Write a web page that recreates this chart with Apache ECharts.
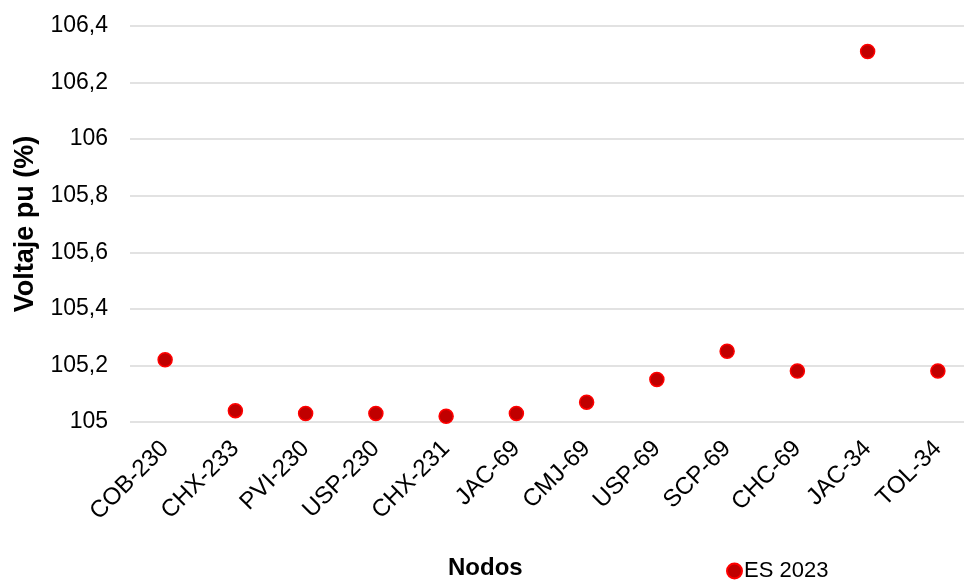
<!DOCTYPE html>
<html>
<head>
<meta charset="utf-8">
<script src="https://cdn.jsdelivr.net/npm/echarts@6/dist/echarts.min.js"></script>
<style>
  html, body { margin: 0; padding: 0; background: #ffffff; }
  #chart { width: 964px; height: 580px; }
</style>
</head>
<body>
<div id="chart"></div>
<script>
// Nodes along the horizontal axis
var nodos = ['COB-230', 'CHX-233', 'PVI-230', 'USP-230', 'CHX-231', 'JAC-69',
             'CMJ-69', 'USP-69', 'SCP-69', 'CHC-69', 'JAC-34', 'TOL-34'];

// Voltage per unit (%) for scenario ES 2023
var es2023 = [105.22, 105.04, 105.03, 105.03, 105.02, 105.03,
              105.07, 105.15, 105.25, 105.18, 106.31, 105.18];

// Value axis range and step
var yMin = 105;
var yMax = 106.4;
var yStep = 0.2;

var FONT = '"Liberation Sans", Arial, sans-serif';

var chart = echarts.init(document.getElementById('chart'), null, { renderer: 'canvas' });

chart.setOption({
  backgroundColor: '#ffffff',
  animation: false,
  textStyle: { fontFamily: FONT },
  title: {
    text: 'Nodos',
    left: 443,
    top: 551,
    textStyle: { fontFamily: FONT, fontSize: 24, fontWeight: 'bold', color: '#000000' }
  },
  legend: {
    left: 721,
    top: 555,
    itemWidth: 15,
    itemHeight: 15,
    itemGap: 4,
    icon: 'circle',
    textStyle: { fontFamily: FONT, fontSize: 22, color: '#000000', padding: [0, 0, 0, -3] },
    data: ['ES 2023']
  },
  grid: {
    left: 130,
    right: -9,
    top: 26,
    bottom: 158,
    outerBoundsMode: 'none',
    containLabel: false
  },
  xAxis: {
    type: 'category',
    data: nodos,
    boundaryGap: true,
    axisLine: { show: false },
    axisTick: { show: false },
    splitLine: { show: false },
    axisLabel: {
      rotate: 45,
      interval: 0,
      margin: 23,
      fontFamily: FONT,
      fontSize: 24,
      color: '#000000'
    }
  },
  yAxis: {
    type: 'value',
    min: yMin,
    max: yMax,
    interval: yStep,
    name: 'Voltaje pu (%)',
    nameLocation: 'middle',
    nameGap: 90,
    nameRotate: 90,
    nameTextStyle: { fontFamily: FONT, fontSize: 27, fontWeight: 'bold', color: '#000000' },
    axisLine: { show: false },
    axisTick: { show: false },
    axisLabel: {
      margin: 22,
      fontFamily: FONT,
      fontSize: 23,
      color: '#000000',
      formatter: function (v) {
        return String(Math.round(v * 10) / 10).replace('.', ',');
      }
    },
    splitLine: { show: true, lineStyle: { color: '#d9d9d9', width: 1.5 } }
  },
  series: [{
    name: 'ES 2023',
    type: 'scatter',
    data: es2023,
    symbol: 'circle',
    symbolSize: 14,
    itemStyle: { color: '#C00000', borderColor: '#FF0000', borderWidth: 1.5, opacity: 1 }
  }]
});
</script>
</body>
</html>
